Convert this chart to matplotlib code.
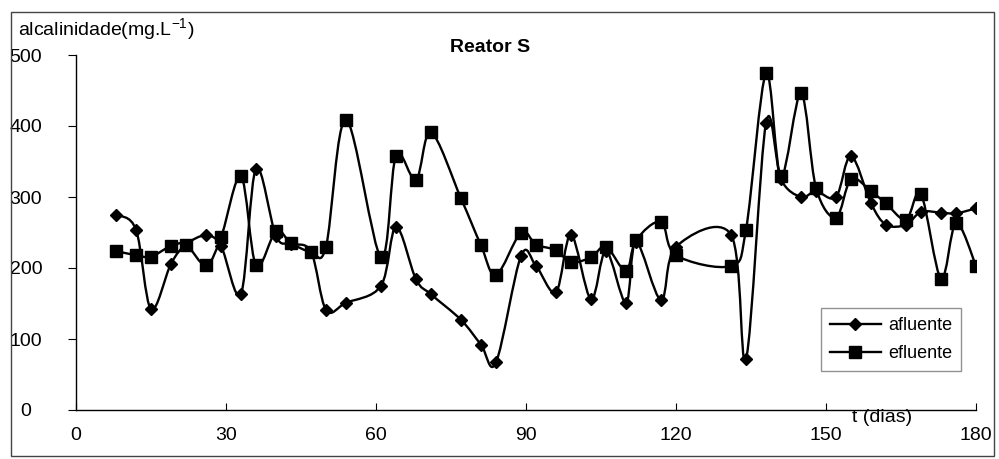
import numpy as np
import matplotlib
matplotlib.use("Agg")
import matplotlib.pyplot as plt
from matplotlib.path import Path
from matplotlib.patches import PathPatch, Rectangle
from matplotlib.lines import Line2D

plt.rcParams['font.family'] = ['Liberation Sans', 'DejaVu Sans']
plt.rcParams['mathtext.fontset'] = 'custom'
plt.rcParams['mathtext.rm'] = 'Liberation Sans'
plt.rcParams['mathtext.default'] = 'regular'

# sampling days (t, dias)
dias = [8, 12, 15, 19, 22, 26, 29, 33, 36, 40, 43, 47, 50, 54, 61, 64, 68, 71,
        77, 81, 84, 89, 92, 96, 99, 103, 106, 110, 112, 117, 120, 131, 134, 138,
        141, 145, 148, 152, 155, 159, 162, 166, 169, 173, 176, 180]

# alcalinidade (mg/L)
afluente = [275, 254, 142, 206, 233, 246, 231, 164, 340, 245, 234, 223, 141, 151,
            175, 258, 184, 163, 127, 92, 67, 217, 203, 166, 247, 156, 224, 151,
            237, 155, 230, 247, 72, 404, 325, 300, 308, 300, 358, 291, 261, 261,
            279, 278, 277, 284]
efluente = [224, 218, 216, 231, 233, 204, 243, 329, 204, 252, 235, 223, 230, 409,
            215, 358, 324, 391, 298, 232, 190, 250, 233, 225, 208, 215, 230, 196,
            239, 265, 218, 203, 254, 474, 329, 446, 313, 271, 325, 308, 291, 268,
            304, 185, 263, 203]

x_ticks = [0, 30, 60, 90, 120, 150, 180]
y_ticks = [0, 100, 200, 300, 400, 500]


def smooth_path(xs, ys):
    # spreadsheet-style smoothed line: cubic Bezier segments with
    # control points offset by a sixth of the neighbour chord
    p = np.column_stack([xs, ys]).astype(float)
    n = len(p)
    verts = [p[0]]
    codes = [Path.MOVETO]
    for i in range(n - 1):
        p0 = p[i - 1] if i > 0 else p[i]
        p3 = p[i + 2] if i + 2 < n else p[i + 1]
        c1 = p[i] + (p[i + 1] - p0) / 6.0
        c2 = p[i + 1] - (p3 - p[i]) / 6.0
        verts += [c1, c2, p[i + 1]]
        codes += [Path.CURVE4] * 3
    return Path(verts, codes)


W, H = 999, 459
fig = plt.figure(figsize=(W / 100, H / 100), dpi=100)
ax = fig.add_axes([76 / W, (H - 410) / H, 900 / W, 355 / H])

lw = 1.7
styles = [(afluente, 'D', 6.5), (efluente, 's', 8)]
for ys, mk, ms in styles:
    ax.add_patch(PathPatch(smooth_path(dias, ys), fill=False, edgecolor='black',
                           linewidth=lw, zorder=2))
    ax.plot(dias, ys, linestyle='none', marker=mk, markersize=ms,
            color='black', zorder=3)

ax.set_xlim(0, 180)
ax.set_ylim(0, 500)
ax.set_xticks(x_ticks)
ax.set_yticks(y_ticks)
for s in ['top', 'right']:
    ax.spines[s].set_visible(False)
for s in ['left', 'bottom']:
    ax.spines[s].set_linewidth(1.0)
ax.tick_params(axis='x', direction='in', length=5, pad=12, labelsize=14)
ax.tick_params(axis='y', direction='out', length=6, pad=30, labelsize=14)
for lab in ax.get_yticklabels():
    lab.set_horizontalalignment('center')

# texts
fig.text(18 / W, 1 - 35 / H, 'alcalinidade(mg.L$^{-1}$)', fontsize=14,
         ha='left', va='baseline')
fig.text(490 / W, 1 - 47 / H, 'Reator S', fontsize=14, fontweight='bold',
         ha='center', va='center')
fig.text(882 / W, 1 - 418 / H, 't (dias)', fontsize=14, ha='center', va='center')

handles = [
    Line2D([], [], color='black', linewidth=lw, marker='D', markersize=6.5),
    Line2D([], [], color='black', linewidth=lw, marker='s', markersize=8),
]
leg = ax.legend(handles, ['afluente', 'efluente'], loc='center',
                bbox_to_anchor=(817 / W, 1 - 373 / H, 148 / W, 67 / H),
                bbox_transform=fig.transFigure, fontsize=13, frameon=True,
                fancybox=False, handlelength=2.8, handletextpad=0.4,
                borderpad=0.5, labelspacing=0.6)
leg.get_frame().set_edgecolor('#777777')
leg.get_frame().set_linewidth(1.0)

# outer chart frame
fig.add_artist(Rectangle((11 / W, 1 - 456 / H), (994 - 11) / W, (456 - 12) / H,
                         transform=fig.transFigure, fill=False,
                         edgecolor='#444444', linewidth=1.0))

fig.savefig('out.png', dpi=100)
